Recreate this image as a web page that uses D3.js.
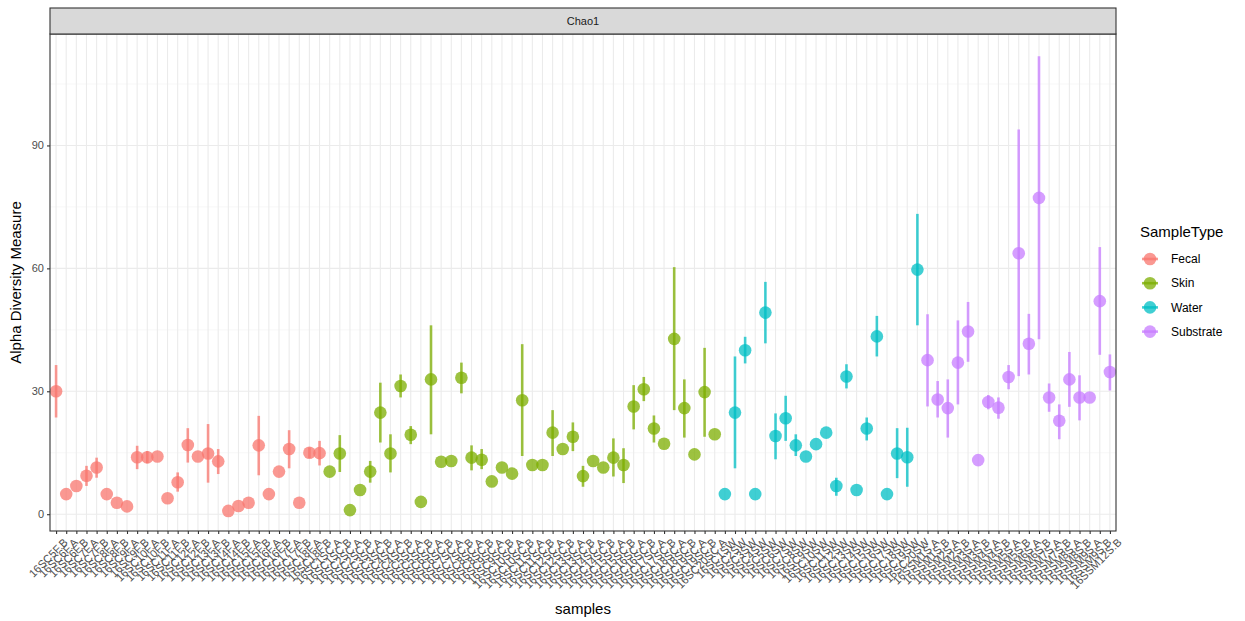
<!DOCTYPE html>
<html>
<head>
<meta charset="utf-8">
<script src="https://cdn.jsdelivr.net/npm/d3@7"></script>
<style>
  body { margin: 0; background: #fff; font-family: "Liberation Sans", Arial, sans-serif; }
</style>
</head>
<body>
<svg id="chart" width="1245" height="621"></svg>
<script>
// sample names per group
const fecalSamples = ["16SC5F.B","16SC6F.A","16SC6F.B","16SC7F.A","16SC7F.B","16SC8F.A","16SC8F.B","16SC9F.A","16SC9F.B","16SC10F.A","16SC10F.B","16SC11F.A","16SC11F.B","16SC12F.A","16SC12F.B","16SC13F.A","16SC13F.B","16SC14F.A","16SC14F.B","16SC15F.A","16SC15F.B","16SC16F.A","16SC16F.B","16SC17F.A","16SC17F.B","16SC18F.A","16SC18F.B"];
const skinSamples = ["16SC1SC.A","16SC1SC.B","16SC2SC.A","16SC2SC.B","16SC3SC.A","16SC3SC.B","16SC4SC.A","16SC4SC.B","16SC5SC.A","16SC5SC.B","16SC6SC.A","16SC6SC.B","16SC7SC.A","16SC7SC.B","16SC8SC.A","16SC8SC.B","16SC9SC.A","16SC9SC.B","16SC10SC.A","16SC10SC.B","16SC11SC.A","16SC11SC.B","16SC12SC.A","16SC12SC.B","16SC13SC.A","16SC13SC.B","16SC14SC.A","16SC14SC.B","16SC15SC.A","16SC15SC.B","16SC16SC.A","16SC16SC.B","16SC17SC.A","16SC17SC.B","16SC18SC.A","16SC18SC.B","16SC19SC.A","16SC19SC.B","16SC20SC.A"];
const waterSamples = ["16SC1SW","16SC2SW","16SC3SW","16SC4SW","16SC5SW","16SC6SW","16SC7SW","16SC8SW","16SC9SW","16SC10SW","16SC11SW","16SC12SW","16SC13SW","16SC14SW","16SC15SW","16SC16SW","16SC17SW","16SC18SW","16SC19SW","16SC20SW"];
const substrateSamples = ["16SSM1S.A","16SSM1S.B","16SSM2S.A","16SSM2S.B","16SSM3S.A","16SSM3S.B","16SSM4S.A","16SSM4S.B","16SSM5S.A","16SSM5S.B","16SSM6S.A","16SSM6S.B","16SSM7S.A","16SSM7S.B","16SSM8S.A","16SSM8S.B","16SSM9S.A","16SSM9S.B","16SSM12S.B"];

// Chao1 estimate, lower and upper bound per group
const fecalChao = [30, 4.9, 6.9, 9.4, 11.4, 4.9, 2.8, 1.9, 13.9, 13.9, 14.1, 3.9, 7.8, 16.9, 14.1, 14.8, 12.9, 0.8, 2.0, 2.8, 16.8, 4.9, 10.4, 15.9, 2.8, 15.0, 14.9];
const fecalLow  = [23.6, null, null, 6.9, 8.9, null, null, null, 11.0, 12.4, null, null, 5.5, 12.6, null, 7.7, 9.8, null, null, null, 9.5, null, null, 11.2, null, 13.7, 11.9];
const fecalHigh = [36.4, null, null, 11.8, 13.8, null, null, null, 16.7, 15.4, null, null, 10.2, 21.0, null, 22.0, 15.9, null, null, null, 24.0, null, null, 20.5, null, 16.3, 17.9];

const skinChao = [10.4, 14.8, 1.0, 5.9, 10.4, 24.8, 14.8, 31.3, 19.4, 3.0, 32.9, 12.8, 13.0, 33.3, 13.8, 13.3, 8.0, 11.4, 9.9, 27.8, 12.0, 12.0, 19.9, 15.9, 18.9, 9.3, 13.0, 11.4, 13.8, 12.0, 26.3, 30.5, 20.9, 17.2, 42.8, 25.9, 14.6, 29.8, 19.5];
const skinLow  = [null, 10.3, null, null, 7.7, 17.5, 10.2, 28.5, 17.1, null, 19.5, null, null, 29.5, 10.7, 11.0, null, null, null, 14.2, null, null, 14.2, null, 15.4, 6.7, null, null, 9.2, 7.6, 20.7, 27.6, 17.5, null, 25.4, 18.7, null, 18.9, null];
const skinHigh = [null, 19.3, null, null, 13.0, 32.1, 19.5, 34.1, 21.5, null, 46.1, null, null, 37.0, 16.8, 15.9, null, null, null, 41.5, null, null, 25.4, null, 22.4, 11.8, null, null, 18.5, 16.1, 31.5, 33.5, 24.1, null, 60.3, 32.9, null, 40.6, null];

const waterChao = [4.9, 24.8, 40.0, 4.9, 49.2, 19.1, 23.4, 16.8, 14.1, 17.1, 19.9, 6.9, 33.6, 5.9, 20.9, 43.4, 4.9, 14.8, 13.9, 59.7];
const waterLow  = [null, 11.2, 36.8, null, 41.7, 13.4, 17.9, 14.2, null, null, null, 4.5, 30.7, null, 18.0, 38.5, null, 8.8, 6.7, 46.1];
const waterHigh = [null, 38.5, 43.3, null, 56.7, 24.6, 28.9, 19.5, null, null, null, 8.9, 36.6, null, 23.6, 48.4, null, 21.0, 21.1, 73.3];

const substrateChao = [37.6, 28.0, 25.9, 37.0, 44.6, 13.2, 27.4, 26.0, 33.5, 63.7, 41.6, 77.2, 28.5, 22.8, 32.9, 28.5, 28.5, 52.0, 34.7];
const substrateLow  = [26.3, 23.6, 18.7, 26.8, 37.2, null, 25.6, 23.3, 30.5, 33.7, 34.1, 42.7, 25.0, 18.3, 26.2, 22.9, null, 38.9, 30.2];
const substrateHigh = [48.8, 32.5, 32.9, 47.3, 51.8, null, 29.1, 28.5, 36.4, 93.9, 48.9, 111.8, 31.9, 26.8, 39.6, 33.9, null, 65.2, 39.0];

const sampleTypes = ["Fecal", "Skin", "Water", "Substrate"];
const typeColors = ["#F8766D", "#7CAE00", "#00BFC4", "#C77CFF"];
const yTicks = [0, 30, 60, 90];

function buildRows(type, names, est, lo, hi) {
  return names.map(function(name, i) {
    return { sample: name, type: type, value: est[i], low: lo[i], high: hi[i] };
  });
}

const rows = [].concat(
  buildRows("Fecal", fecalSamples, fecalChao, fecalLow, fecalHigh),
  buildRows("Skin", skinSamples, skinChao, skinLow, skinHigh),
  buildRows("Water", waterSamples, waterChao, waterLow, waterHigh),
  buildRows("Substrate", substrateSamples, substrateChao, substrateLow, substrateHigh)
);

const svg = d3.select('#chart');
const panel = { left: 50, right: 1116, top: 34, bottom: 531 };
const strip = { top: 8, bottom: 34 };

const x = d3.scalePoint()
  .domain(rows.map(function(d) { return d.sample; }))
  .range([panel.left, panel.right])
  .padding(0.6);
const y = d3.scaleLinear().domain([-4.1, 117.2]).range([panel.bottom, panel.top]);
const color = d3.scaleOrdinal().domain(sampleTypes).range(typeColors);

// panel background + grid
svg.append('rect')
  .attr('x', panel.left).attr('y', panel.top)
  .attr('width', panel.right - panel.left).attr('height', panel.bottom - panel.top)
  .attr('fill', '#fff');

const grid = svg.append('g');
grid.selectAll('line.minor')
  .data([15, 45, 75, 105])
  .enter().append('line')
  .attr('x1', panel.left).attr('x2', panel.right)
  .attr('y1', function(d) { return y(d); }).attr('y2', function(d) { return y(d); })
  .attr('stroke', '#f2f2f2').attr('stroke-width', 0.6);
grid.selectAll('line.major')
  .data(yTicks)
  .enter().append('line')
  .attr('x1', panel.left).attr('x2', panel.right)
  .attr('y1', function(d) { return y(d); }).attr('y2', function(d) { return y(d); })
  .attr('stroke', '#ebebeb').attr('stroke-width', 1.1);
grid.selectAll('line.vert')
  .data(x.domain())
  .enter().append('line')
  .attr('x1', function(d) { return x(d); }).attr('x2', function(d) { return x(d); })
  .attr('y1', panel.top).attr('y2', panel.bottom)
  .attr('stroke', '#ebebeb').attr('stroke-width', 1.1);

// error bars
svg.append('g').selectAll('line')
  .data(rows.filter(function(d) { return d.low !== null; }))
  .enter().append('line')
  .attr('x1', function(d) { return x(d.sample); })
  .attr('x2', function(d) { return x(d.sample); })
  .attr('y1', function(d) { return y(d.low); })
  .attr('y2', function(d) { return y(d.high); })
  .attr('stroke', function(d) { return color(d.type); })
  .attr('stroke-opacity', 0.75)
  .attr('stroke-width', 2.6);

// points
svg.append('g').selectAll('circle')
  .data(rows)
  .enter().append('circle')
  .attr('cx', function(d) { return x(d.sample); })
  .attr('cy', function(d) { return y(d.value); })
  .attr('r', 6.3)
  .attr('fill', function(d) { return color(d.type); })
  .attr('fill-opacity', 0.75);

// panel border
svg.append('rect')
  .attr('x', panel.left).attr('y', panel.top)
  .attr('width', panel.right - panel.left).attr('height', panel.bottom - panel.top)
  .attr('fill', 'none').attr('stroke', '#333').attr('stroke-width', 1.1);

// facet strip
svg.append('rect')
  .attr('x', panel.left).attr('y', strip.top)
  .attr('width', panel.right - panel.left).attr('height', strip.bottom - strip.top)
  .attr('fill', '#d9d9d9').attr('stroke', '#333').attr('stroke-width', 1.1);
svg.append('text')
  .attr('x', (panel.left + panel.right) / 2).attr('y', (strip.top + strip.bottom) / 2)
  .attr('dy', '0.35em').attr('text-anchor', 'middle')
  .attr('font-size', 11).attr('fill', '#1a1a1a')
  .text('Chao1');

// y axis
const yAxis = svg.append('g')
  .attr('transform', 'translate(' + panel.left + ',0)')
  .call(d3.axisLeft(y).tickValues(yTicks).tickSize(3).tickPadding(3));
yAxis.select('.domain').remove();
yAxis.selectAll('.tick line').attr('stroke', '#333').attr('stroke-width', 1.1);
yAxis.selectAll('.tick text').attr('fill', '#4d4d4d').attr('font-size', 11)
  .attr('font-family', '"Liberation Sans", Arial, sans-serif');

// x axis
const xAxis = svg.append('g')
  .attr('transform', 'translate(0,' + panel.bottom + ')')
  .call(d3.axisBottom(x).tickSize(3).tickPadding(2));
xAxis.select('.domain').remove();
xAxis.selectAll('.tick line').attr('stroke', '#333').attr('stroke-width', 1.1);
xAxis.selectAll('.tick text')
  .attr('fill', '#4d4d4d').attr('font-size', 11)
  .attr('font-family', '"Liberation Sans", Arial, sans-serif')
  .attr('text-anchor', 'end')
  .attr('dy', '0.7em')
  .attr('transform', 'translate(3,3) rotate(-45)');

// axis titles
svg.append('text')
  .attr('x', (panel.left + panel.right) / 2).attr('y', 614)
  .attr('text-anchor', 'middle').attr('font-size', 15).attr('fill', '#000')
  .text('samples');
svg.append('text')
  .attr('transform', 'translate(21,' + (panel.top + panel.bottom) / 2 + ') rotate(-90)')
  .attr('text-anchor', 'middle').attr('font-size', 15).attr('fill', '#000')
  .text('Alpha Diversity Measure');

// legend
const legend = svg.append('g').attr('transform', 'translate(1140,0)');
legend.append('text')
  .attr('x', 0).attr('y', 237)
  .attr('font-size', 15).attr('fill', '#000')
  .text('SampleType');
const keys = legend.selectAll('g.key')
  .data(sampleTypes)
  .enter().append('g')
  .attr('class', 'key')
  .attr('transform', function(d, i) { return 'translate(0,' + (259 + i * 24.2) + ')'; });
keys.append('line')
  .attr('x1', 2).attr('x2', 18).attr('y1', 0).attr('y2', 0)
  .attr('stroke', function(d) { return color(d); })
  .attr('stroke-opacity', 0.75).attr('stroke-width', 2.6);
keys.append('circle')
  .attr('cx', 10).attr('cy', 0).attr('r', 6.3)
  .attr('fill', function(d) { return color(d); })
  .attr('fill-opacity', 0.75);
keys.append('text')
  .attr('x', 31).attr('y', 0).attr('dy', '0.35em')
  .attr('font-size', 12).attr('fill', '#000')
  .text(function(d) { return d; });
</script>
</body>
</html>
